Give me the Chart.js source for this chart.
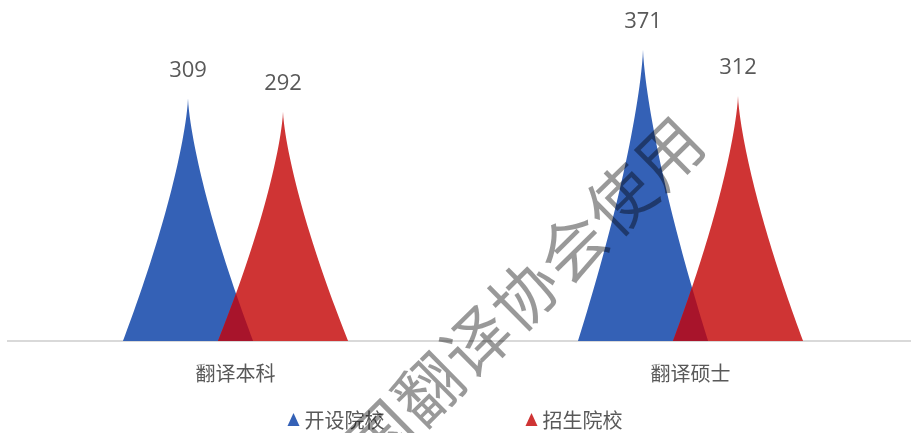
<!DOCTYPE html>
<html lang="zh-CN">
<head>
<meta charset="utf-8">
<title>翻译本科与翻译硕士院校数量</title>
<script src="https://cdn.jsdelivr.net/npm/chart.js@4.4.1/dist/chart.umd.min.js"></script>
<style>
  html, body { margin: 0; padding: 0; background: #fff; overflow: hidden; }
  #wrap { position: absolute; left: 0; top: 0; width: 918px; height: 433px; }
</style>
</head>
<body>
<div id="wrap"><canvas id="chart"></canvas></div>
<script>
const categories = ['翻译本科', '翻译硕士'];
const seriesNames = ['开设院校', '招生院校'];
const openedSchools = [309, 371];
const enrollingSchools = [292, 312];
const seriesColors = ['#3461B6', '#CF3434'];
const overlapColor = '#A8142B';
const watermarkText = '中国翻译协会使用';

const TEXT_COLOR = '#595959';
const CJK_FONT = '"Noto Sans CJK SC", "Noto Sans", sans-serif';

// spikes are wider than their bar slot, so the two of a category cross at the base
const SPIKE_SPREAD = 1.37;
const SPIKE_CURVE = 1.4;

function spikePath(ctx, el) {
  const half = el.width * SPIKE_SPREAD / 2;
  const h = el.base - el.y;
  const steps = 40;
  ctx.beginPath();
  ctx.moveTo(el.x - half, el.base);
  for (let i = 1; i <= steps; i++) {
    const f = i / steps;
    ctx.lineTo(el.x - half * Math.pow(1 - f, SPIKE_CURVE), el.base - h * f);
  }
  for (let i = steps - 1; i >= 0; i--) {
    const f = i / steps;
    ctx.lineTo(el.x + half * Math.pow(1 - f, SPIKE_CURVE), el.base - h * f);
  }
  ctx.closePath();
}

function drawValueLabels(chart) {
  const ctx = chart.ctx;
  ctx.font = '22px "Open Sans", "Noto Sans", sans-serif';
  ctx.fillStyle = TEXT_COLOR;
  ctx.textAlign = 'center';
  ctx.textBaseline = 'middle';
  chart.data.datasets.forEach((ds, i) => {
    chart.getDatasetMeta(i).data.forEach((el, j) => {
      ctx.fillText(ds.data[j], el.x, el.y - 28);
    });
  });
}

function drawLegend(chart) {
  const ctx = chart.ctx;
  const y = 420, gap = 141, tri = 12;
  ctx.font = '20px ' + CJK_FONT;
  ctx.textAlign = 'left';
  ctx.textBaseline = 'middle';
  const widths = seriesNames.map(n => tri + 5 + ctx.measureText(n).width);
  const total = widths.reduce((a, b) => a + b, 0) + gap * (widths.length - 1);
  let x = 455 - total / 2;
  seriesNames.forEach((name, i) => {
    ctx.fillStyle = seriesColors[i];
    ctx.beginPath();
    ctx.moveTo(x, y + 6);
    ctx.lineTo(x + tri / 2, y - 7);
    ctx.lineTo(x + tri, y + 6);
    ctx.closePath();
    ctx.fill();
    ctx.fillStyle = TEXT_COLOR;
    ctx.fillText(name, x + tri + 5, y);
    x += widths[i] + gap;
  });
}

// watermark text is drawn opaque off screen, then laid over the chart at 40%
function drawWatermark(chart) {
  const ctx = chart.ctx;
  const off = document.createElement('canvas');
  off.width = chart.width;
  off.height = chart.height;
  const oc = off.getContext('2d');
  const step = 67.5;
  oc.translate(500, 318);
  oc.rotate(-44.6 * Math.PI / 180);
  oc.font = '66px ' + CJK_FONT;
  oc.textAlign = 'center';
  oc.textBaseline = 'middle';
  oc.fillStyle = '#000';
  const mid = (watermarkText.length - 1) / 2;
  [...watermarkText].forEach((ch, i) => {
    oc.fillText(ch, (i - mid) * step, 0);
  });
  ctx.save();
  ctx.globalAlpha = 0.4;
  ctx.drawImage(off, 0, 0, chart.width, chart.height);
  ctx.restore();
}

const spikePlugin = {
  id: 'spikes',
  beforeDatasetsDraw(chart) {
    const ctx = chart.ctx;
    const metas = chart.data.datasets.map((ds, i) => chart.getDatasetMeta(i).data);
    ctx.save();
    metas.forEach((els, i) => {
      ctx.fillStyle = seriesColors[i];
      els.forEach(el => { spikePath(ctx, el); ctx.fill(); });
    });
    // darker where the two spikes of one category cross
    metas[0].forEach((el, j) => {
      ctx.save();
      spikePath(ctx, el);
      ctx.clip();
      spikePath(ctx, metas[1][j]);
      ctx.fillStyle = overlapColor;
      ctx.fill();
      ctx.restore();
    });
    ctx.restore();
    return false;
  },
  afterDraw(chart) {
    const ctx = chart.ctx;
    ctx.save();
    drawValueLabels(chart);
    drawLegend(chart);
    drawWatermark(chart);
    ctx.restore();
  }
};

new Chart(document.getElementById('chart'), {
  type: 'bar',
  data: {
    labels: categories,
    datasets: [
      { label: seriesNames[0], data: openedSchools, backgroundColor: seriesColors[0] },
      { label: seriesNames[1], data: enrollingSchools, backgroundColor: seriesColors[1] }
    ]
  },
  options: {
    responsive: true,
    maintainAspectRatio: false,
    animation: false,
    datasets: { bar: { categoryPercentage: 0.4176, barPercentage: 1 } },
    layout: { padding: { left: 8, right: 0, top: 27, bottom: 28 } },
    plugins: { legend: { display: false }, tooltip: { enabled: false } },
    scales: {
      x: {
        grid: { display: false, drawTicks: false },
        border: { display: true, color: '#D9D9D9', width: 2 },
        ticks: { color: TEXT_COLOR, padding: 20, font: { size: 20, family: CJK_FONT } }
      },
      y: { display: false, min: 0, max: 400 }
    }
  },
  plugins: [spikePlugin]
});
</script>
</body>
</html>
